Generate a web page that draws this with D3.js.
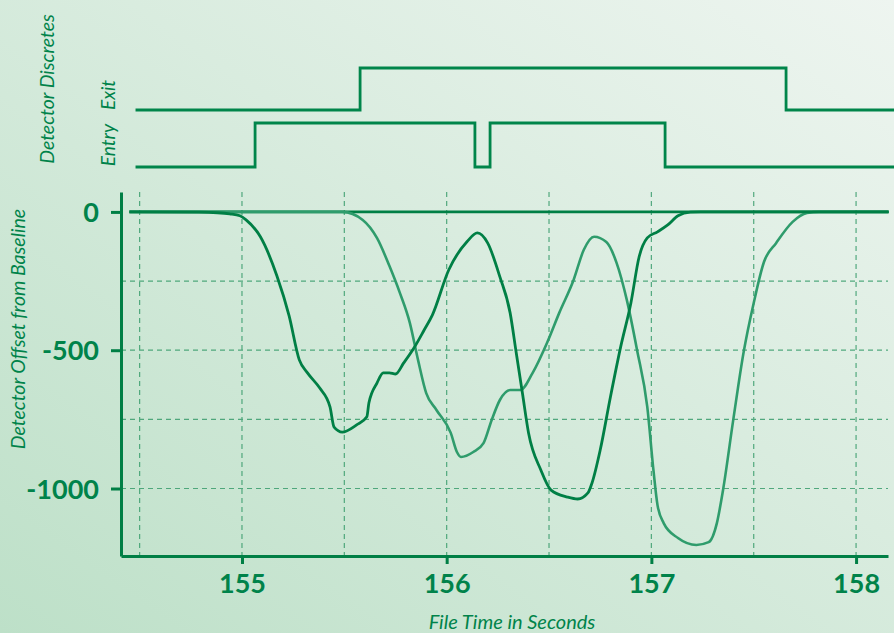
<!DOCTYPE html>
<html>
<head>
<meta charset="utf-8">
<script src="https://cdn.jsdelivr.net/npm/d3@7"></script>
<style>
  html, body { margin: 0; padding: 0; overflow: hidden; }
  svg { display: block; font-family: Lato, "Open Sans", sans-serif; }
</style>
</head>
<body>
<div id="chart"></div>
<script>
// analog detector traces (time in s, offset from baseline)
const entryTimes = [154.45, 154.79, 154.88, 154.94, 154.99, 155.02, 155.09, 155.17, 155.23, 155.28, 155.32,
    155.38, 155.43, 155.45, 155.49, 155.56, 155.61, 155.62, 155.66, 155.69, 155.72, 155.75, 155.79, 155.84,
    155.89, 155.93, 156.01, 156.10, 156.15, 156.20, 156.26, 156.31, 156.34, 156.37, 156.40, 156.46, 156.51,
    156.59, 156.64, 156.69, 156.71, 156.75, 156.80, 156.85, 156.90, 156.94, 156.98, 157.03, 157.08, 157.13,
    157.19, 157.24, 158.16];
const entryValues = [0, -1, -3, -7, -14, -29, -90, -230, -375, -535, -582,
    -637, -705, -778, -796, -770, -741, -691, -618, -582, -582, -586, -546, -492,
    -427, -373, -210, -107, -76, -112, -235, -365, -510, -655, -799, -933, -1006,
    -1031, -1038, -1016, -980, -861, -669, -488, -329, -163, -94, -72, -47, -14,
    -1, 0, 0];

const exitTimes = [154.45, 155.43, 155.49, 155.59, 155.66, 155.72, 155.77, 155.82, 155.86, 155.90, 155.95,
    156.02, 156.05, 156.07, 156.13, 156.18, 156.22, 156.26, 156.31, 156.36, 156.42, 156.49, 156.55, 156.62,
    156.67, 156.72, 156.78, 156.83, 156.88, 156.93, 156.98, 157.01, 157.03, 157.06, 157.13, 157.22, 157.28,
    157.32, 157.35, 157.40, 157.45, 157.50, 157.55, 157.61, 157.69, 157.76, 157.82, 158.16];
const exitValues = [0, 0, 0, -29, -95, -195, -290, -401, -535, -655, -716,
    -799, -868, -886, -868, -836, -752, -680, -644, -644, -582, -474, -365, -246,
    -137, -90, -109, -184, -318, -499, -705, -933, -1060, -1125, -1179, -1204, -1194,
    -1125, -1006, -752, -510, -329, -181, -112, -36, -4, 0, 0];

// discrete states (0 = low, 1 = high), step after each time
const entryStateTimes = [154.48, 155.064, 156.138, 156.212, 157.067, 158.2];
const entryStates = [0, 1, 0, 1, 0, 0];
const exitStateTimes = [154.48, 155.577, 157.658, 158.2];
const exitStates = [0, 1, 0, 0];

const xTicks = [155, 156, 157, 158];
const xGrid = [154.5, 155, 155.5, 156, 156.5, 157, 157.5, 158];
const yTicks = [0, -500, -1000];
const yGrid = [-250, -500, -750, -1000];

const W = 894, H = 633;
const dark = "#007f45", light = "#2f9c6c", textCol = "#00834a";

var svg = d3.select("#chart").append("svg")
    .attr("width", W).attr("height", H);

// background gradient
var defs = svg.append("defs");
var bg = defs.append("linearGradient")
    .attr("id", "bg").attr("x1", "100%").attr("y1", "0%").attr("x2", "0%").attr("y2", "100%");
bg.append("stop").attr("offset", "0%").attr("stop-color", "#eef5f0");
bg.append("stop").attr("offset", "100%").attr("stop-color", "#bde0c8");
svg.append("rect").attr("width", W).attr("height", H).attr("fill", "url(#bg)");

// scales
var x = d3.scaleLinear().domain([154.409, 158.156]).range([121, 888]);
var y = d3.scaleLinear().domain([-1244, 72]).range([556, 192]);
var yEntry = d3.scaleLinear().domain([0, 1]).range([167, 123]);
var yExit = d3.scaleLinear().domain([0, 1]).range([110, 68]);

// grid
var grid = svg.append("g")
    .attr("stroke", "#3a9d6d").attr("stroke-width", 1.2)
    .attr("stroke-dasharray", "5,4").attr("opacity", 0.85);
grid.selectAll(".vg").data(xGrid).enter().append("line")
    .attr("x1", d => x(d)).attr("x2", d => x(d))
    .attr("y1", y.range()[1]).attr("y2", y.range()[0]);
grid.selectAll(".hg").data(yGrid).enter().append("line")
    .attr("x1", x.range()[0]).attr("x2", x.range()[1])
    .attr("y1", d => y(d)).attr("y2", d => y(d));

// baseline at zero
svg.append("line")
    .attr("x1", x(154.45)).attr("x2", x(158.156))
    .attr("y1", y(0)).attr("y2", y(0))
    .attr("stroke", dark).attr("stroke-width", 2.6);

// analog traces
var line = d3.line().x(d => x(d[0])).y(d => y(d[1])).curve(d3.curveMonotoneX);
svg.append("path")
    .datum(d3.zip(exitTimes, exitValues))
    .attr("d", line).attr("fill", "none")
    .attr("stroke", light).attr("stroke-width", 2.6).attr("stroke-linejoin", "round");
svg.append("path")
    .datum(d3.zip(entryTimes, entryValues))
    .attr("d", line).attr("fill", "none")
    .attr("stroke", dark).attr("stroke-width", 2.8).attr("stroke-linejoin", "round");

// discrete traces
svg.append("path")
    .datum(d3.zip(exitStateTimes, exitStates))
    .attr("d", d3.line().x(d => x(d[0])).y(d => yExit(d[1])).curve(d3.curveStepAfter))
    .attr("fill", "none").attr("stroke", "#00854a").attr("stroke-width", 2.8);
svg.append("path")
    .datum(d3.zip(entryStateTimes, entryStates))
    .attr("d", d3.line().x(d => x(d[0])).y(d => yEntry(d[1])).curve(d3.curveStepAfter))
    .attr("fill", "none").attr("stroke", "#00854a").attr("stroke-width", 2.8);

// axes
var xAxis = svg.append("g")
    .attr("transform", "translate(0," + y.range()[0] + ")")
    .call(d3.axisBottom(x).tickValues(xTicks).tickFormat(d3.format("d")).tickSizeInner(8).tickSizeOuter(0).tickPadding(10));
var yAxis = svg.append("g")
    .attr("transform", "translate(" + x.range()[0] + ",0)")
    .call(d3.axisLeft(y).tickValues(yTicks).tickFormat(d => d).tickSizeInner(10).tickSizeOuter(0).tickPadding(12));

[xAxis, yAxis].forEach(function (ax) {
    ax.select(".domain").attr("stroke", dark).attr("stroke-width", 3);
    ax.selectAll(".tick line").attr("stroke", dark).attr("stroke-width", 3);
    ax.selectAll(".tick text")
        .attr("fill", textCol)
        .style("font-size", "27px")
        .style("font-weight", "bold")
        .style("font-family", "Lato, sans-serif");
});
yAxis.selectAll(".tick text").attr("dy", "0.36em");
xAxis.selectAll(".tick text").attr("dy", "0.7em");

// labels
function vlabel(txt, cx, cy, size) {
    svg.append("text")
        .attr("transform", "translate(" + cx + "," + cy + ") rotate(-90)")
        .attr("text-anchor", "middle")
        .attr("fill", textCol)
        .style("font-style", "italic")
        .style("font-size", size + "px")
        .text(txt);
}
vlabel("Detector Discretes", 54, 89, 19.5);
vlabel("Entry", 115, 145, 19);
vlabel("Exit", 115, 95, 19);
vlabel("Detector Offset from Baseline", 25, 329, 19.5);

svg.append("text")
    .attr("x", 512).attr("y", 629)
    .attr("text-anchor", "middle")
    .attr("fill", textCol)
    .style("font-style", "italic")
    .style("font-size", "20px")
    .text("File Time in Seconds");
</script>
</body>
</html>
